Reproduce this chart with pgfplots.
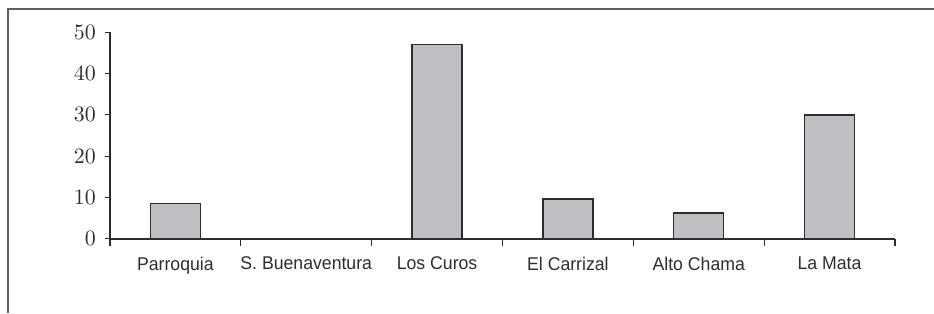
\documentclass[border=0pt]{standalone}
\usepackage{fontspec}
\usepackage{pgfplots}
\pgfplotsset{compat=1.18}
\newfontfamily\condfont[FakeStretch=0.96]{Liberation Sans}
\definecolor{barfill}{RGB}{190,191,195}
\definecolor{linec}{RGB}{45,45,45}
\definecolor{framec}{RGB}{95,95,95}
\begin{document}
\begin{tikzpicture}
\useasboundingbox (0,0) rectangle (467pt,156.5pt);
\draw[framec, line width=0.6pt] (4pt,0) -- (4pt,152pt) -- (467pt,152pt);
\begin{axis}[
  at={(55pt,37.15pt)}, anchor=origin,
  scale only axis,
  width=392.5pt, height=103.2pt,
  xmin=0, xmax=6, ymin=0, ymax=50,
  axis on top,
  axis x line=bottom, axis y line=left,
  axis line style={linec, line width=0.8pt, -},
  ytick={0,10,20,30,40,50},
  xtick={0.5,1.5,2.5,3.5,4.5,5.5},
  xticklabels={Parroquia, S. Buenaventura, Los Curos, El Carrizal, Alto Chama, La Mata},
  x tick label style={font=\condfont\fontsize{9.2}{11}\selectfont, text=linec, yshift=-3pt},
  y tick label style={font=\fontsize{10.5}{12}\selectfont, text=linec, xshift=-1pt},
  minor xtick={0,1,2,3,4,5,6},
  tick align=outside,
  major tick length=2.6pt,
  minor tick length=3.4pt,
  xtick style={draw=none},
  minor x tick style={draw=linec, line width=0.6pt},
  y tick style={draw=linec, line width=0.6pt},
  clip=false,
]
\addplot[ybar, bar width=25pt, fill=barfill, draw=linec, line width=0.7pt]
  coordinates {(0.5,8.5) (1.5,0) (2.5,47) (3.5,9.6) (4.5,6.2) (5.5,30)};
\end{axis}
\end{tikzpicture}
\end{document}
